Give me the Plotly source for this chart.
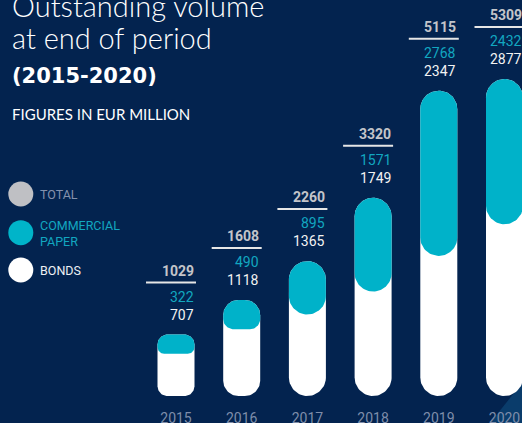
import numpy as np
import plotly.graph_objects as go

# ---------------- data ----------------
years = ["2015", "2016", "2017", "2018", "2019", "2020"]
total = [1029, 1608, 2260, 3320, 5115, 5309]
commercial_paper = [322, 490, 895, 1571, 2768, 2432]
bonds = [707, 1118, 1365, 1749, 2347, 2877]

legend_labels = ["TOTAL", "COMMERCIAL<br>PAPER", "BONDS"]
title_lines = ["Outstanding volume", "at end of period"]
period_label = "(2015-2020)"
unit_label = "FIGURES IN EUR MILLION"

# ---------------- style ----------------
BG = "#03234f"
TEAL = "#00b2c9"
WHITE = "#ffffff"
GREY = "#c3c5ca"
W, H = 522, 423
PLOT_H = 396            # plot area height in px (baseline of bars)
X0_PX, STEP_PX = 176, 65.7
K = 0.0597              # px per EUR million
BAR_PX = 37

x_range = [-X0_PX / STEP_PX, (W - X0_PX) / STEP_PX]
y_range = [0, PLOT_H / K]


def pill(i, vb, vt, r_top, r_bot, n=20):
    hw = BAR_PX / 2 / STEP_PX
    rxt, ryt = r_top / STEP_PX, r_top / K
    rxb, ryb = r_bot / STEP_PX, r_bot / K
    xs, ys = [], []
    corners = [
        (i + hw - rxt, vt - ryt, rxt, ryt, 0, 90),
        (i - hw + rxt, vt - ryt, rxt, ryt, 90, 180),
        (i - hw + rxb, vb + ryb, rxb, ryb, 180, 270),
        (i + hw - rxb, vb + ryb, rxb, ryb, 270, 360),
    ]
    for cx, cy, rx, ry, a0, a1 in corners:
        a = np.radians(np.linspace(a0, a1, n))
        xs.extend(cx + rx * np.cos(a))
        ys.extend(cy + ry * np.sin(a))
    xs.append(xs[0])
    ys.append(ys[0])
    return xs, ys


fig = go.Figure()

for i in range(len(years)):
    h_px = total[i] * K
    r_main = min(BAR_PX / 2, 0.16 * h_px)
    xs, ys = pill(i, 0, total[i], r_main, r_main)
    fig.add_trace(go.Scatter(x=xs, y=ys, mode="lines", fill="toself",
                             fillcolor=WHITE, line=dict(width=0, color=WHITE),
                             hoverinfo="skip", showlegend=False))
for i in range(len(years)):
    h_px = total[i] * K
    cp_px = commercial_paper[i] * K
    r_main = min(BAR_PX / 2, 0.16 * h_px)
    r_bot = min(BAR_PX / 2, 0.35 * cp_px)
    xs, ys = pill(i, bonds[i], total[i], r_main, r_bot)
    fig.add_trace(go.Scatter(x=xs, y=ys, mode="lines", fill="toself",
                             fillcolor=TEAL, line=dict(width=0, color=TEAL),
                             hoverinfo="skip", showlegend=False))


def data_to_paper_x(xv):
    return (xv - x_range[0]) / (x_range[1] - x_range[0])


annotations = []
shapes = []
num_font = "Roboto, 'DejaVu Sans Condensed', sans-serif"
right_off = (BAR_PX / 2 + 1) / STEP_PX
for i in range(len(years)):
    xr = data_to_paper_x(i + right_off)
    common = dict(x=xr, y=total[i], xref="paper", yref="y", xanchor="right",
                  yanchor="middle", showarrow=False)
    annotations.append(dict(common, yshift=64, text=f"<b>{total[i]}</b>",
                            font=dict(family=num_font, size=14, color=GREY)))
    annotations.append(dict(common, yshift=38, text=str(commercial_paper[i]),
                            font=dict(family=num_font, size=14, color="#12a7c0")))
    annotations.append(dict(common, yshift=20, text=str(bonds[i]),
                            font=dict(family=num_font, size=14, color="#f2f2f2")))
    shapes.append(dict(type="line", xref="x", yref="y", ysizemode="pixel", yanchor=total[i],
                       x0=i + (BAR_PX / 2 + 1.5 - 50) / STEP_PX, x1=i + (BAR_PX / 2 + 1.5) / STEP_PX,
                       y0=52, y1=52, line=dict(color="#e6e6e6", width=2)))


def px_x(p):
    return p / W


def px_y(p):
    return (PLOT_H - p) / PLOT_H


title_font = "Lato, 'Open Sans', sans-serif"
annotations += [
    dict(x=px_x(10), y=px_y(5), text=title_lines[0], font=dict(family=title_font, size=29, color=WHITE, weight=300)),
    dict(x=px_x(10), y=px_y(37.5), text=title_lines[1], font=dict(family=title_font, size=29, color=WHITE, weight=300)),
    dict(x=px_x(10), y=px_y(76), text=f"<b>{period_label}</b>",
         font=dict(family="'DejaVu Sans', sans-serif", size=21, color=WHITE)),
    dict(x=px_x(10), y=px_y(114), text=unit_label, font=dict(family=title_font, size=15, color=WHITE)),
]

leg_font = "Roboto, sans-serif"
leg_y = [194, 233, 270]
leg_col = ["#8491ad", "#12a7c0", "#eef0f4"]
for lab, yy, cc in zip(legend_labels, leg_y, leg_col):
    annotations.append(dict(x=px_x(38), y=px_y(yy), text=lab, align="left",
                            font=dict(family=leg_font, size=12.5, color=cc)))

for a in annotations:
    a.setdefault("xref", "paper")
    a.setdefault("yref", "paper")
    a.setdefault("xanchor", "left")
    a.setdefault("yanchor", "middle")
    a.setdefault("showarrow", False)

for yy, col in zip([194, 232.7, 270], ["#bfc0c4", "#00b4c9", WHITE]):
    r = 12.5
    shapes.append(dict(type="circle", xref="paper", yref="paper",
                       x0=px_x(20.8 - r), x1=px_x(20.8 + r), y0=px_y(yy + r), y1=px_y(yy - r),
                       fillcolor=col, line=dict(width=0)))

# decorative lighter wedge bottom right
shapes.append(dict(type="path", xref="paper", yref="paper", layer="below",
                   path=f"M {px_x(490)},{px_y(423)} L {px_x(522)},{px_y(383)} L {px_x(522)},{px_y(423)} Z",
                   fillcolor="#0a3c6b", line=dict(width=0)))

fig.update_layout(
    width=W, height=H,
    margin=dict(l=0, r=0, t=0, b=H - PLOT_H),
    paper_bgcolor=BG, plot_bgcolor="rgba(0,0,0,0)",
    xaxis=dict(range=x_range, tickvals=list(range(len(years))), ticktext=years,
               showgrid=False, zeroline=False, showline=False, ticks="",
               ticklabelstandoff=12, automargin=False,
               tickfont=dict(family=num_font, size=14, color="#7e8daa"), fixedrange=True),
    yaxis=dict(range=y_range, visible=False, fixedrange=True),
    annotations=annotations, shapes=shapes,
    hovermode=False, showlegend=False,
)

fig.write_html(
    "out.html",
    config={"displayModeBar": False},
    post_script="document.body.style.margin='0';document.body.style.padding='0';"
                "document.body.style.overflow='hidden';"
                "document.body.style.background='" + BG + "';",
)
